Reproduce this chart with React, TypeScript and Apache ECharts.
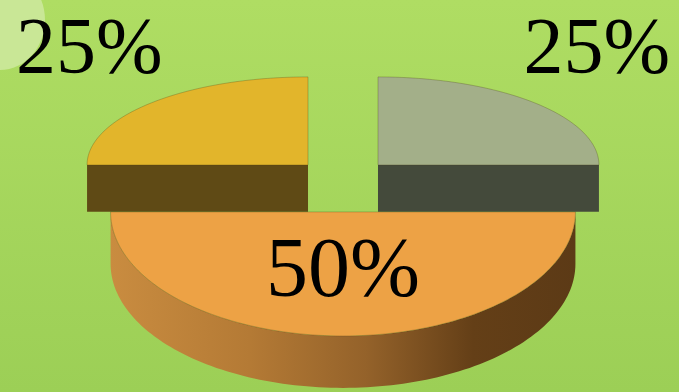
import React, { useEffect, useRef } from "react";
import * as echarts from "echarts";

// ---- data (clockwise from 12 o'clock) ----
const SLICE_NAMES = ["Segment 1", "Segment 2", "Segment 3"];
const SLICE_VALUES = [25, 50, 25];

// ---- styles ----
const TOP_COLORS = ["#a3af89", "#eda245", "#e2b52b"];
const SIDE_STOPS = [
  [
    [0, "#444a3b"],
    [1, "#404536"],
  ],
  [
    [0, "#c98c40"],
    [0.3, "#b47a35"],
    [0.55, "#94622a"],
    [0.78, "#643f17"],
    [1, "#5c3a16"],
  ],
  [
    [0, "#5f4a15"],
    [1, "#5d4814"],
  ],
];

// ---- layout (pseudo-3D projection) ----
const W = 679;
const H = 392;
const CX = 343;
const CY = 184.4;
const RX0 = 225.7;
const K = 0.133;
const EXPLODE = 0.224;
const EXPLODE_Y = 123;
const RY_BACK = 88;
const RY_FRONT = 124;
const DEPTH = 49;
const DK = 0.267;
const LABEL_R_OUT = 1.4;
const LABEL_DY = -32;
const LABEL_R_IN = 0.45;

function grad(stops: any[]) {
  return new echarts.graphic.LinearGradient(
    0,
    0,
    1,
    0,
    stops.map((s) => ({ offset: s[0], color: s[1] }))
  );
}

export default function App() {
  const ref = useRef<HTMLDivElement>(null);
  useEffect(() => {
    document.body.style.margin = "0";
    const chart = echarts.init(ref.current!, null, { renderer: "svg" });
    const total = SLICE_VALUES.reduce((a, b) => a + b, 0);

    const renderItem = (params: any, api: any) => {
      const i = params.dataIndex;
      const value = api.value(0);
      let before = 0;
      for (let j = 0; j < i; j++) before += SLICE_VALUES[j];
      const a0 = Math.PI / 2 - (before / total) * 2 * Math.PI;
      const a1 = a0 - (value / total) * 2 * Math.PI;
      const mid = (a0 + a1) / 2;
      const ox = EXPLODE * Math.cos(mid);
      const oz = -EXPLODE * Math.sin(mid);
      const scaleX = RX0 * (1 + K * oz);
      const depth = DEPTH * (1 + DK * oz);
      const P = (rho: number, th: number, down: number) => {
        const xl = rho * Math.cos(th);
        const zl = -rho * Math.sin(th);
        return [
          CX + (ox + xl) * scaleX,
          CY + oz * EXPLODE_Y + zl * (zl < 0 ? RY_BACK : RY_FRONT) + down * depth,
        ];
      };
      const N = 120;
      const thetas: number[] = [];
      for (let k = 0; k <= N; k++) thetas.push(a1 + ((a0 - a1) * k) / N);
      const baseZ = Math.round((oz + 1) * 100);
      const children: any[] = [];
      const sideFill = grad(SIDE_STOPS[i]);

      const faces: number[] = [];
      if (Math.cos(a1) > 1e-6) faces.push(a1);
      if (-Math.cos(a0) > 1e-6) faces.push(a0);
      faces.forEach((th) => {
        children.push({
          type: "polygon",
          z2: baseZ,
          shape: { points: [P(0, th, 0), P(1, th, 0), P(1, th, 1), P(0, th, 1)] },
          style: { fill: SIDE_STOPS[i][0][1] as string },
        });
      });

      const front = thetas.filter((th) => -Math.sin(th) >= -1e-9);
      if (front.length > 1) {
        const pts = front
          .map((th) => P(1, th, 0))
          .concat(front.slice().reverse().map((th) => P(1, th, 1)));
        children.push({
          type: "polygon",
          z2: baseZ,
          shape: { points: pts },
          style: { fill: sideFill },
        });
      }

      children.push({
        type: "polygon",
        z2: baseZ + 1,
        shape: { points: [P(0, 0, 0)].concat(thetas.map((th) => P(1, th, 0))) },
        style: { fill: TOP_COLORS[i], stroke: "rgba(70,60,20,0.35)", lineWidth: 0.8 },
      });

      const pct = Math.round((value / total) * 100) + "%";
      const lp = oz < 0 ? P(LABEL_R_OUT, mid, 0) : P(LABEL_R_IN, mid, 0);
      children.push({
        type: "text",
        z2: 1000,
        x: lp[0],
        y: lp[1] + (oz < 0 ? LABEL_DY : 0),
        style: {
          text: pct,
          fill: "#000",
          fontSize: oz < 0 ? 80 : 84,
          fontFamily: "Liberation Serif",
          align: "center",
          verticalAlign: "middle",
        },
      });
      return { type: "group", children };
    };

    chart.setOption({
      animation: false,
      backgroundColor: new echarts.graphic.LinearGradient(0, 0, 0, 1, [
        { offset: 0, color: "#afdd63" },
        { offset: 1, color: "#9ccf56" },
      ]),
      graphic: [
        {
          type: "ellipse",
          z: 0,
          silent: true,
          shape: { cx: 0, cy: 20, rx: 45, ry: 50 },
          style: { fill: "#c9e796" },
        },
      ],
      series: [
        {
          type: "custom",
          coordinateSystem: "none",
          renderItem,
          data: SLICE_VALUES.map((v, i) => ({ name: SLICE_NAMES[i], value: [v] })),
        },
      ],
    });
    return () => chart.dispose();
  }, []);
  return <div ref={ref} style={{ width: W, height: H }} />;
}
